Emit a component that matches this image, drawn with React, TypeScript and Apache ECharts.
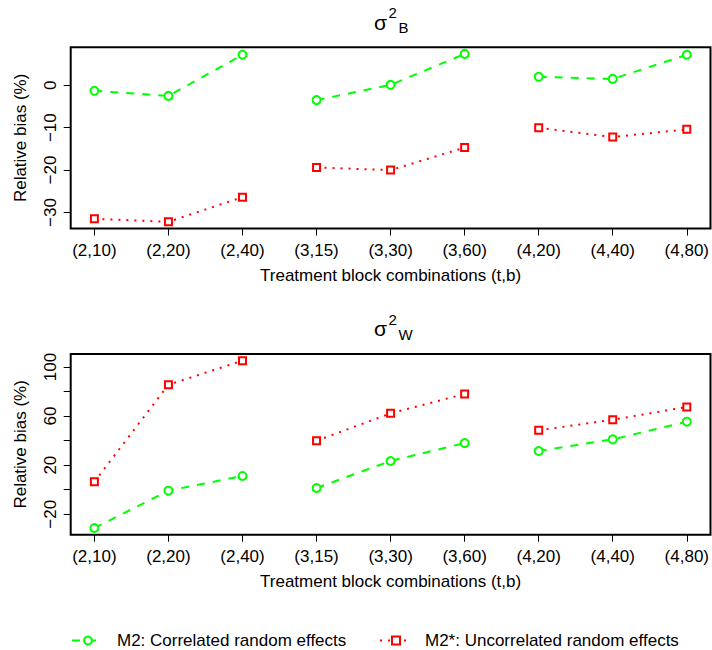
import { useEffect, useRef } from 'react';
import * as echarts from 'echarts';

// Treatment / block combinations (t,b) along the x axis
const combos = ['(2,10)', '(2,20)', '(2,40)', '(3,15)', '(3,30)', '(3,60)', '(4,20)', '(4,40)', '(4,80)'];
// Points are joined only within the same number of treatments t
const tGroups = [[0, 1, 2], [3, 4, 5], [6, 7, 8]];

// Relative bias (%) of the between-block variance σ²_B
const sigmaBCorrelated = [-1.3, -2.5, 7.2, -3.5, 0.1, 7.4, 2.0, 1.5, 7.2];
const sigmaBUncorrelated = [-31.5, -32.2, -26.4, -19.4, -20.0, -14.7, -10.0, -12.2, -10.4];
// Relative bias (%) of the within-block variance σ²_W
const sigmaWCorrelated = [-31.2, -0.8, 11.2, 1.4, 23.4, 38.0, 31.5, 41.0, 55.4];
const sigmaWUncorrelated = [6.5, 85.5, 105.1, 39.9, 62.2, 78.0, 48.4, 57.0, 67.4];

const sigmaBTicks = [-30, -20, -10, 0];
const sigmaBTickLabels = [-30, -20, -10, 0];
const sigmaWTicks = [-20, 0, 20, 40, 60, 80, 100];
const sigmaWTickLabels = [-20, 20, 60, 100];

const M2 = 'M2: Correlated random effects';
const M2STAR = 'M2*: Uncorrelated random effects';

const FONT = '"Liberation Sans", Arial, Helvetica, sans-serif';
const FS = 17;
const GREEN = '#00FF00';
const RED = '#FF0000';

// R-style 4% padding around the data range
function paddedRange(values: number[]): [number, number] {
  const lo = Math.min(...values);
  const hi = Math.max(...values);
  const pad = (hi - lo) * 0.04;
  return [lo - pad, hi + pad];
}

const minus = (v: number) => String(v).replace('-', '\u2212');

const GRID_LEFT = 70.7;
const GRID_WIDTH = 644;
const panels = [
  { top: 47.2, height: 181.3, sub: 'B', correlated: sigmaBCorrelated, uncorrelated: sigmaBUncorrelated, ticks: sigmaBTicks, labels: sigmaBTickLabels },
  { top: 354, height: 180.7, sub: 'W', correlated: sigmaWCorrelated, uncorrelated: sigmaWUncorrelated, ticks: sigmaWTicks, labels: sigmaWTickLabels },
];

function buildOption(): echarts.EChartsOption {
  const xPositions = combos.map((_, i) => i + 1);
  const grids: any[] = [];
  const xAxes: any[] = [];
  const yAxes: any[] = [];
  const series: any[] = [];
  const graphics: any[] = [];

  panels.forEach((p, k) => {
    grids.push({
      left: GRID_LEFT,
      top: p.top,
      width: GRID_WIDTH,
      height: p.height,
      show: true,
      borderColor: '#000',
      borderWidth: 2,
      backgroundColor: 'transparent',
    });
    xAxes.push({
      type: 'value',
      gridIndex: k,
      min: 0.68,
      max: 9.32,
      axisLine: { show: false, onZero: false },
      splitLine: { show: false },
      axisTick: { show: true, length: 7, customValues: xPositions, lineStyle: { color: '#000', width: 1 } },
      axisLabel: {
        customValues: xPositions,
        formatter: (v: number) => combos[Math.round(v) - 1] ?? '',
        fontSize: FS,
        fontFamily: FONT,
        color: '#000',
        margin: 13,
      },
      name: 'Treatment block combinations (t,b)',
      nameLocation: 'middle',
      nameGap: 38,
      nameTextStyle: { fontSize: FS, fontFamily: FONT, color: '#000' },
    });
    const [ymin, ymax] = paddedRange([...p.correlated, ...p.uncorrelated]);
    yAxes.push({
      type: 'value',
      gridIndex: k,
      min: ymin,
      max: ymax,
      axisLine: { show: false, onZero: false },
      splitLine: { show: false },
      axisTick: { show: true, length: 7, customValues: p.ticks, lineStyle: { color: '#000', width: 1 } },
      axisLabel: {
        customValues: p.labels,
        formatter: (v: number) => minus(v),
        rotate: 90,
        fontSize: FS,
        fontFamily: FONT,
        color: '#000',
        margin: 12,
      },
      name: 'Relative bias (%)',
      nameLocation: 'middle',
      nameRotate: 90,
      nameGap: 42,
      nameTextStyle: { fontSize: FS, fontFamily: FONT, color: '#000' },
    });

    tGroups.forEach((idx) => {
      series.push({
        type: 'line',
        name: M2,
        xAxisIndex: k,
        yAxisIndex: k,
        data: idx.map((i) => [i + 1, p.correlated[i]]),
        symbol: 'emptyCircle',
        symbolSize: 8,
        itemStyle: { color: GREEN, borderWidth: 2 },
        lineStyle: { color: GREEN, width: 2, type: [8, 8] },
        z: 3,
      });
      series.push({
        type: 'line',
        name: M2STAR,
        xAxisIndex: k,
        yAxisIndex: k,
        data: idx.map((i) => [i + 1, p.uncorrelated[i]]),
        symbol: 'emptyRect',
        symbolSize: 7,
        itemStyle: { color: RED, borderWidth: 2 },
        lineStyle: { color: RED, width: 2, type: [2, 6] },
        z: 3,
      });
    });

    // Panel title: sigma with superscript 2 and subscript
    const dy = p.top - panels[0].top;
    graphics.push(
      { type: 'text', x: 374, y: 22 + dy, style: { text: 'σ', font: `21px ${FONT}`, fill: '#000', textAlign: 'left', textVerticalAlign: 'middle' } },
      { type: 'text', x: 388.5, y: 12.8 + dy, style: { text: '2', font: `15px ${FONT}`, fill: '#000', textAlign: 'left', textVerticalAlign: 'middle' } },
      { type: 'text', x: 398.5, y: 27.8 + dy, style: { text: p.sub, font: `15px ${FONT}`, fill: '#000', textAlign: 'left', textVerticalAlign: 'middle' } },
    );
  });

  const legendBase = {
    top: 632,
    padding: 0,
    orient: 'horizontal',
    itemWidth: 32,
    itemHeight: 10,
    formatter: (name: string) => `{gap|}${name}`,
    textStyle: {
      fontSize: FS,
      fontFamily: FONT,
      color: '#000',
      rich: { gap: { width: 8, fontSize: FS } },
    },
  };

  return {
    animation: false,
    backgroundColor: '#fff',
    grid: grids,
    xAxis: xAxes,
    yAxis: yAxes,
    series,
    legend: [
      { ...legendBase, left: 71, data: [M2] },
      { ...legendBase, left: 379, data: [M2STAR] },
    ],
    graphic: graphics,
  } as any;
}

export default function App() {
  const ref = useRef<HTMLDivElement>(null);
  useEffect(() => {
    if (!ref.current) return;
    const chart = echarts.init(ref.current, undefined, { renderer: 'svg' });
    chart.setOption(buildOption());
    return () => chart.dispose();
  }, []);
  return <div ref={ref} style={{ position: 'absolute', left: 0, top: 0, width: 712, height: 650 }} />;
}
